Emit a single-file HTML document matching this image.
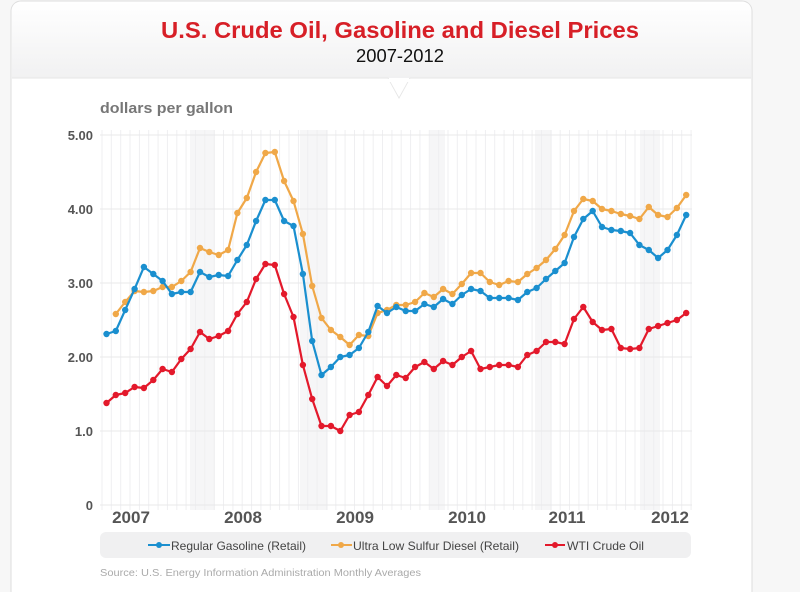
<!DOCTYPE html>
<html><head><meta charset="utf-8"><style>
html,body{margin:0;padding:0;background:#fff;}
svg{display:block;font-family:"Liberation Sans",sans-serif;}
</style></head><body>
<svg id="s" width="800" height="592" viewBox="0 0 800 592" xmlns="http://www.w3.org/2000/svg">
<defs>
<linearGradient id="hg" x1="0" y1="0" x2="0" y2="1">
<stop offset="0" stop-color="#ffffff"/><stop offset="1" stop-color="#f1f1f2"/>
</linearGradient>
</defs>
<rect x="0" y="0" width="800" height="592" fill="#f7f7f7"/>
<rect x="11" y="1" width="741" height="600" rx="10" fill="#fff" stroke="#dedede"/>
<path d="M12 78 L12 11 Q12 2 21 2 L742 2 Q751 2 751 11 L751 78 Z" fill="url(#hg)"/>
<path d="M12 78 L388 78 L399 98 L410 78 L751 78" fill="#fff" stroke="#e6e6e6" stroke-width="1"/>
<rect x="12" y="79" width="739" height="3" fill="#fff"/>
<polygon points="389,79 399,97 409,79" fill="#fff"/>
<text x="400" y="38" text-anchor="middle" font-size="23" font-weight="bold" fill="#d71f27" textLength="478" lengthAdjust="spacingAndGlyphs">U.S. Crude Oil, Gasoline and Diesel Prices</text>
<text x="400" y="62" text-anchor="middle" font-size="18" fill="#111" textLength="88" lengthAdjust="spacingAndGlyphs">2007-2012</text>
<text x="100" y="113" font-size="15" font-weight="bold" fill="#777" textLength="133" lengthAdjust="spacingAndGlyphs">dollars per gallon</text>
<g id="bands" fill="#f6f6f7"></g>
<g id="vgrid" stroke="#efeff1" stroke-width="1"></g>
<g stroke="#e8e8ea" stroke-width="1">
<line x1="100" x2="692" y1="135" y2="135"/><line x1="100" x2="692" y1="209" y2="209"/>
<line x1="100" x2="692" y1="283" y2="283"/><line x1="100" x2="692" y1="357" y2="357"/>
<line x1="100" x2="692" y1="431" y2="431"/><line x1="100" x2="692" y1="505" y2="505"/>
</g>
<g font-size="13" font-weight="bold" fill="#555" text-anchor="end">
<text x="93" y="140">5.00</text><text x="93" y="214">4.00</text><text x="93" y="288">3.00</text>
<text x="93" y="362">2.00</text><text x="93" y="436">1.0</text><text x="93" y="510">0</text>
</g>
<g font-size="17" font-weight="bold" fill="#555" text-anchor="middle">
<text x="131" y="523">2007</text><text x="243" y="523">2008</text><text x="355" y="523">2009</text>
<text x="467" y="523">2010</text><text x="567" y="523">2011</text><text x="670" y="523">2012</text>
</g>
<g id="series"></g>
<rect x="100" y="532" width="591" height="26" rx="6" fill="#f0f0f1"/>
<g stroke-width="2">
<line x1="148" x2="170" y1="545" y2="545" stroke="#1a8fcf"/><circle cx="159" cy="545" r="3" fill="#1a8fcf"/>
<line x1="331" x2="352" y1="545" y2="545" stroke="#f0a848"/><circle cx="341" cy="545" r="3" fill="#f0a848"/>
<line x1="545" x2="565" y1="545" y2="545" stroke="#e3192b"/><circle cx="555" cy="545" r="3" fill="#e3192b"/>
</g>
<g font-size="12" fill="#444">
<text x="171" y="550" textLength="135" lengthAdjust="spacingAndGlyphs">Regular Gasoline (Retail)</text>
<text x="353" y="550" textLength="166" lengthAdjust="spacingAndGlyphs">Ultra Low Sulfur Diesel (Retail)</text>
<text x="567" y="550" textLength="77" lengthAdjust="spacingAndGlyphs">WTI Crude Oil</text>
</g>
<text x="100" y="576" font-size="10" fill="#aaa" textLength="321" lengthAdjust="spacingAndGlyphs">Source: U.S. Energy Information Administration Monthly Averages</text>
</svg>
<script>
var NS="http://www.w3.org/2000/svg";
function el(t,a,p){var e=document.createElementNS(NS,t);for(var k in a)e.setAttribute(k,a[k]);p.appendChild(e);return e;}
var vg=document.getElementById("vgrid");
for(var x=102;x<692;x+=9.35){el("line",{x1:x.toFixed(1),x2:x.toFixed(1),y1:130,y2:510},vg);}
var bg=document.getElementById("bands");
[[190,215],[300,328],[430,445],[535,552],[640,660]].forEach(function(b){el("rect",{x:b[0],y:130,width:b[1]-b[0],height:380},bg);});
var red=[403,395,393,387,388,380,369,372,359,349,332,339,336,331,314,302,279,264,265,294,317,365,399,426,426,431,415,412,395,377,386,375,378,367,362,369,361,365,357,351,369,367,365,365,367,355,351,342,342,344,319,307,322,330,329,348,349,348,329,326,323,320,313];
var blue=[334,331,310,289,267,274,281,294,292,292,272,277,275,276,260,245,221,200,200,221,226,274,341,375,367,357,355,348,332,306,313,307,311,311,304,307,299,304,295,289,291,298,298,298,300,292,288,279,271,263,237,219,211,227,230,231,233,245,250,258,250,235,215];
var orange=[null,314,302,291,292,291,287,287,281,272,248,252,255,250,213,198,172,153,152,181,201,234,286,318,330,337,345,335,336,313,310,305,305,302,293,297,289,294,284,273,273,282,285,281,282,274,268,260,249,235,211,199,201,209,211,214,216,219,207,215,217,208,195];
var sg=document.getElementById("series");
function draw(d,c){var pts=[];d.forEach(function(y,i){if(y!=null)pts.push([106.5+9.35*i,y]);});
el("polyline",{points:pts.map(function(p){return p[0].toFixed(1)+","+p[1];}).join(" "),fill:"none",stroke:c,"stroke-width":2.2,"stroke-linejoin":"round"},sg);
pts.forEach(function(p){el("circle",{cx:p[0].toFixed(1),cy:p[1],r:3.2,fill:c},sg);});}
draw(orange,"#f0a848");draw(blue,"#1a8fcf");draw(red,"#e3192b");
</script>
</body></html>
